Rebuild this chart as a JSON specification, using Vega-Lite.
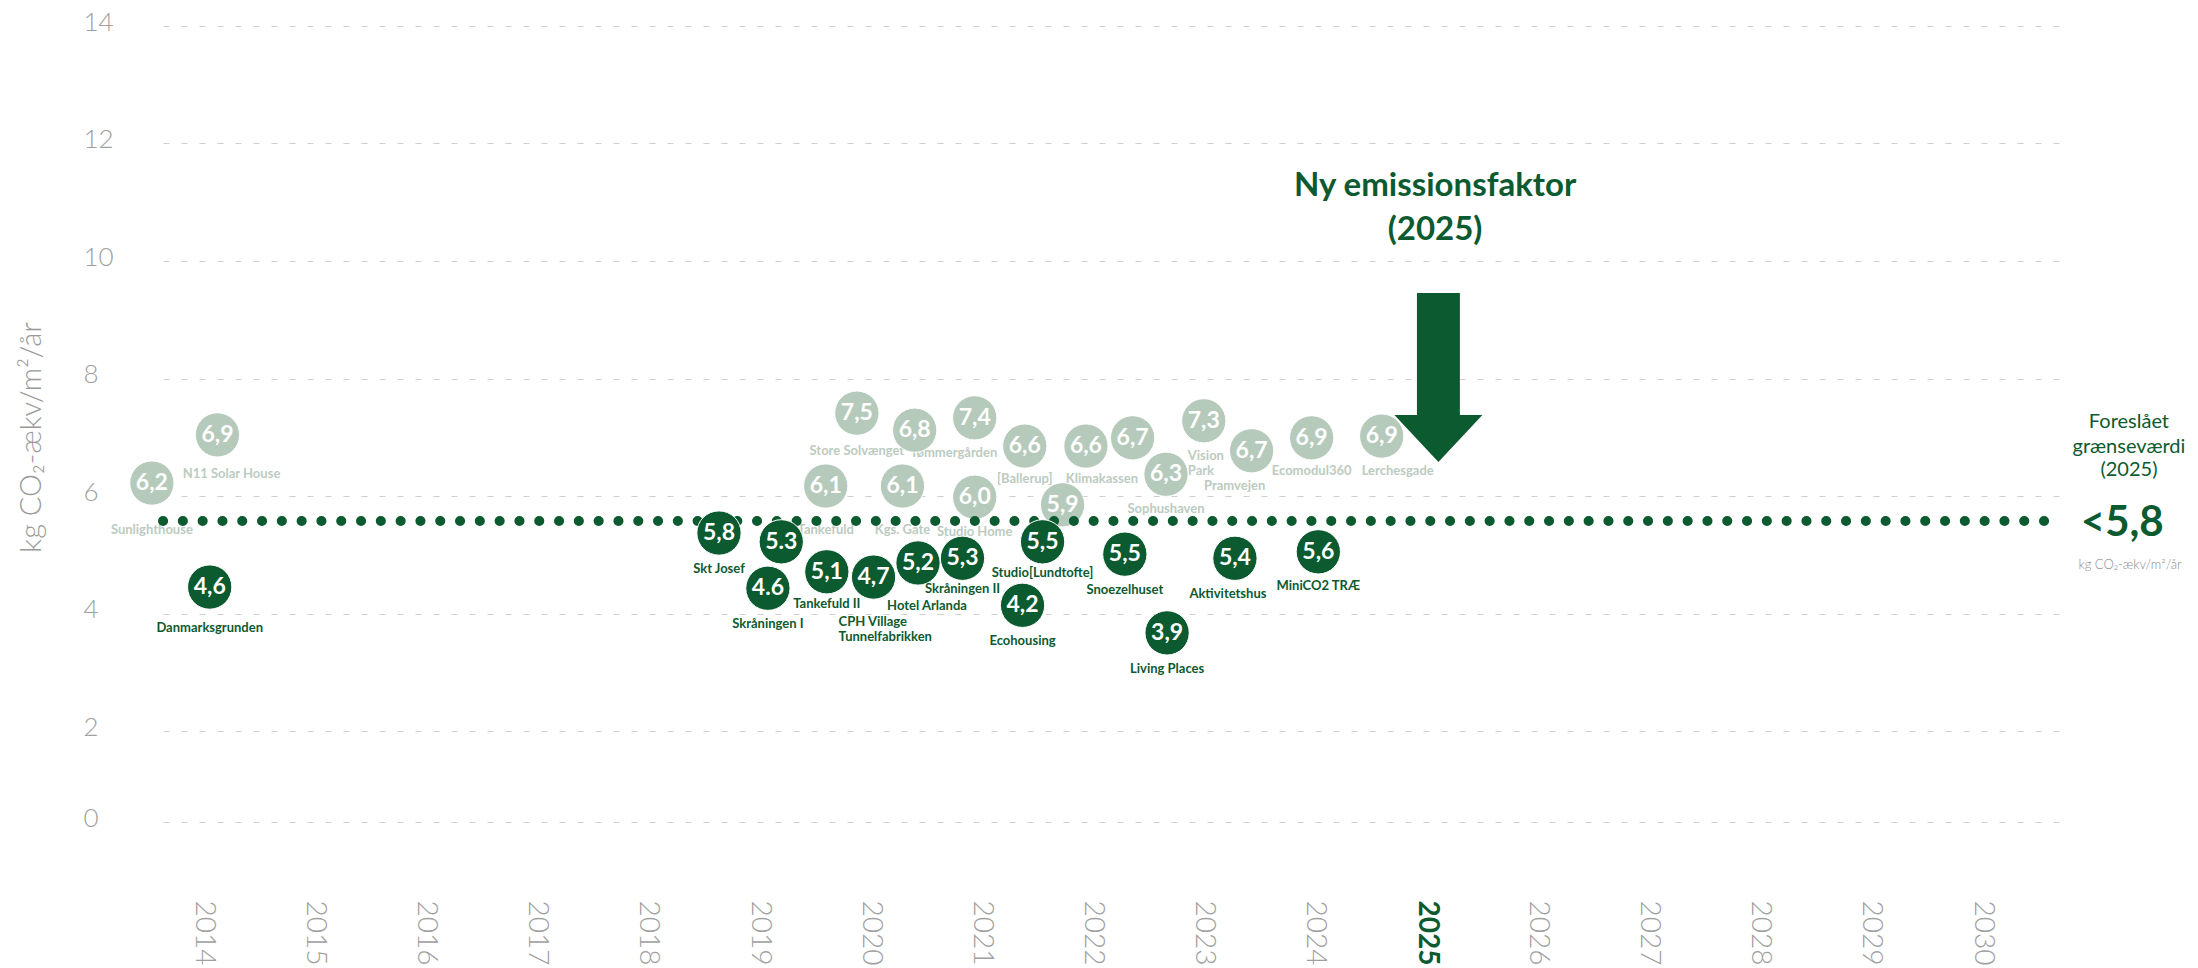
{
  "$schema": "https://vega.github.io/schema/vega-lite/v6.json",
  "width": 1897,
  "height": 870,
  "autosize": "none",
  "padding": {"left": 163, "top": 0, "right": 138, "bottom": 98},
  "background": "white",
  "config": {"view": {"stroke": null}, "font": "Lato"},
  "datasets": {
    "bubbles": [
      {"name": "Sunlighthouse", "x": 2013.54, "y": 6.22, "value": "6,2", "type": "light"},
      {"name": "N11 Solar House", "x": 2014.13, "y": 7.04, "value": "6,9", "type": "light"},
      {"name": "Danmarksgrunden", "x": 2014.06, "y": 4.45, "value": "4,6", "type": "dark"},
      {"name": "Skt Josef", "x": 2018.64, "y": 5.37, "value": "5,8", "type": "dark"},
      {"name": "", "x": 2019.2, "y": 5.22, "value": "5.3", "type": "dark"},
      {"name": "Skråningen I", "x": 2019.08, "y": 4.43, "value": "4.6", "type": "dark"},
      {"name": "Tankefuld", "x": 2019.6, "y": 6.17, "value": "6,1", "type": "light"},
      {"name": "Tankefuld II", "x": 2019.61, "y": 4.71, "value": "5,1", "type": "dark"},
      {"name": "Store Solvænget", "x": 2019.88, "y": 7.41, "value": "7,5", "type": "light"},
      {"name": "CPH Village\nTunnelfabrikken", "x": 2020.03, "y": 4.62, "value": "4,7", "type": "dark"},
      {"name": "Kgs. Gate", "x": 2020.29, "y": 6.17, "value": "6,1", "type": "light"},
      {"name": "", "x": 2020.4, "y": 7.12, "value": "6,8", "type": "light"},
      {"name": "Hotel Arlanda", "x": 2020.43, "y": 4.86, "value": "5,2", "type": "dark"},
      {"name": "Skråningen II", "x": 2020.83, "y": 4.94, "value": "5,3", "type": "dark"},
      {"name": "Tømmergården", "x": 2020.94, "y": 7.33, "value": "7,4", "type": "light"},
      {"name": "Studio Home", "x": 2020.94, "y": 5.98, "value": "6,0", "type": "light"},
      {"name": "Ecohousing", "x": 2021.37, "y": 4.14, "value": "4,2", "type": "dark"},
      {"name": "[Ballerup]", "x": 2021.39, "y": 6.85, "value": "6,6", "type": "light"},
      {"name": "Studio[Lundtofte]", "x": 2021.55, "y": 5.22, "value": "5,5", "type": "dark"},
      {"name": "", "x": 2021.73, "y": 5.85, "value": "5,9", "type": "light"},
      {"name": "Klimakassen", "x": 2021.94, "y": 6.85, "value": "6,6", "type": "light"},
      {"name": "Snoezelhuset", "x": 2022.29, "y": 5.01, "value": "5,5", "type": "dark"},
      {"name": "", "x": 2022.36, "y": 6.99, "value": "6,7", "type": "light"},
      {"name": "Sophushaven", "x": 2022.66, "y": 6.37, "value": "6,3", "type": "light"},
      {"name": "Living Places", "x": 2022.67, "y": 3.67, "value": "3,9", "type": "dark"},
      {"name": "Vision\nPark", "x": 2023.0, "y": 7.28, "value": "7,3", "type": "light"},
      {"name": "Aktivitetshus", "x": 2023.28, "y": 4.94, "value": "5,4", "type": "dark"},
      {"name": "Pramvejen", "x": 2023.43, "y": 6.77, "value": "6,7", "type": "light"},
      {"name": "Ecomodul360", "x": 2023.97, "y": 6.99, "value": "6,9", "type": "light"},
      {"name": "MiniCO2 TRÆ", "x": 2024.03, "y": 5.05, "value": "5,6", "type": "dark"},
      {"name": "Lerchesgade", "x": 2024.6, "y": 7.02, "value": "6,9", "type": "light"}
    ],
    "notes": [
      {"x": 2025.08, "y": 11.277, "text": "Ny emissionsfaktor", "kind": "head"},
      {"x": 2025.08, "y": 10.528, "text": "(2025)", "kind": "head"},
      {"x": 2031.32, "y": 7.26, "text": "Foreslået", "kind": "side"},
      {"x": 2031.32, "y": 6.834, "text": "grænseværdi", "kind": "side"},
      {"x": 2031.32, "y": 6.443, "text": "(2025)", "kind": "side"},
      {"x": 2031.26, "y": 5.54, "text": "<5,8", "kind": "big"},
      {"x": 2031.33, "y": 4.83, "text": "kg CO₂-ækv/m²/år", "kind": "unit"}
    ]
  },
  "encoding": {
    "x": {
      "field": "x", "type": "quantitative",
      "scale": {"domain": [2013.64, 2030.7], "nice": false, "zero": false},
      "axis": {
        "values": [2014, 2015, 2016, 2017, 2018, 2019, 2020, 2021, 2022, 2023, 2024, 2025, 2026, 2027, 2028, 2029, 2030],
        "format": "d", "title": null, "labelAngle": 90, "labelFontSize": 28,
        "labelColor": {"condition": {"test": "datum.value == 2025", "value": "#0c5a30"}, "value": "#a0a0a0"},
        "labelFontWeight": {"condition": {"test": "datum.value == 2025", "value": "bold"}, "value": 300},
        "ticks": false, "tickSize": 0, "domain": false, "grid": false, "labelPadding": 30,
        "labelOverlap": false, "labelFlush": false
      }
    },
    "y": {
      "field": "y", "type": "quantitative",
      "scale": {"domain": [0, 2, 14], "range": [822, 731, 26], "nice": false, "zero": false},
      "axis": {
        "values": [0, 2, 4, 6, 8, 10, 12, 14],
        "title": "kg CO₂-ækv/m²/år", "titleFontSize": 29, "titleFontWeight": 300, "titleColor": "#999999",
        "titleX": -132, "titleY": 437, "titleAngle": -90, "titleAlign": "center", "titleBaseline": "middle",
        "labelAlign": "left", "labelPadding": 80, "labelFontSize": 26, "labelFontWeight": 300,
        "labelColor": "#a0a0a0", "labelOffset": -4,
        "ticks": false, "tickSize": 0, "domain": false,
        "grid": true, "gridColor": "#cfcfcf", "gridDash": [6, 12], "gridWidth": 1.2
      }
    }
  },
  "layer": [
    {
      "data": {"name": "bubbles"},
      "transform": [{"filter": "datum.type == 'light'"}],
      "mark": {"type": "text", "baseline": "top", "fontSize": 13, "fontWeight": "bold", "color": "#bccbc0", "lineBreak": "\n", "lineHeight": 15,
        "align": {"expr": "datum.value == '7,3' ? 'left' : 'center'"},
        "dx": {"expr": "datum.name == 'Tømmergården' ? -21 : (datum.name == 'Klimakassen' || datum.name == 'Lerchesgade') ? 16 : datum.name == 'Pramvejen' ? -17 : datum.name == 'N11 Solar House' ? 14 : datum.value == '7,3' ? -16 : 0"},
        "dy": {"expr": "datum.name == 'Sunlighthouse' ? 41 : (datum.name == 'Tankefuld' || datum.name == 'Kgs. Gate') ? 38 : (datum.name == '[Ballerup]' || datum.name == 'Klimakassen' || datum.name == 'Ecomodul360') ? 27 : datum.name == 'N11 Solar House' ? 33 : datum.name == 'Store Solvænget' ? 32 : 29"}
      },
      "encoding": {"text": {"field": "name"}}
    },
    {
      "data": {"name": "bubbles"},
      "transform": [{"filter": "datum.type == 'light'"}],
      "mark": {"type": "point", "shape": "circle", "filled": true, "size": 1960, "fill": "#b6cabc", "stroke": "white", "strokeWidth": 1, "opacity": 1}
    },
    {
      "data": {"name": "bubbles"},
      "transform": [{"filter": "datum.type == 'light'"}],
      "mark": {"type": "text", "align": "center", "baseline": "middle", "fontSize": 23, "fontWeight": "bold", "color": "white"},
      "encoding": {"text": {"field": "value"}}
    },
    {
      "data": {"values": [{"x": 2013.64, "x2": 2030.7, "y": 5.574}]},
      "mark": {"type": "rule", "color": "#0c5a30", "strokeWidth": 10, "strokeDash": [0.1, 19.7], "strokeCap": "round"},
      "encoding": {"x2": {"field": "x2"}}
    },
    {
      "data": {"name": "bubbles"},
      "transform": [{"filter": "datum.type == 'dark'"}],
      "mark": {"type": "point", "shape": "circle", "filled": true, "size": 1960, "fill": "#0c5a30", "stroke": "white", "strokeWidth": 1, "opacity": 1}
    },
    {
      "data": {"name": "bubbles"},
      "transform": [{"filter": "datum.type == 'dark'"}],
      "mark": {"type": "text", "align": "center", "baseline": "middle", "fontSize": 23, "fontWeight": "bold", "color": "white"},
      "encoding": {"text": {"field": "value"}}
    },
    {
      "data": {"name": "bubbles"},
      "transform": [{"filter": "datum.type == 'dark'"}],
      "mark": {"type": "text", "baseline": "top", "fontSize": 13, "fontWeight": "bold", "color": "#0c5a30", "lineBreak": "\n", "lineHeight": 15,
        "align": {"expr": "datum.value == '4,7' ? 'left' : 'center'"},
        "dx": {"expr": "datum.value == '4,7' ? -35 : datum.name == 'Hotel Arlanda' ? 9 : datum.name == 'Aktivitetshus' ? -7 : 0"},
        "dy": {"expr": "datum.value == '4,7' ? 39 : datum.name == 'Hotel Arlanda' ? 37 : datum.name == 'Skråningen II' ? 25 : datum.name == 'Danmarksgrunden' ? 35 : datum.name == 'Studio[Lundtofte]' ? 25 : datum.name == 'Tankefuld II' ? 26 : datum.name == 'MiniCO2 TRÆ' ? 28 : 30"}
      },
      "encoding": {"text": {"field": "name"}}
    },
    {
      "data": {"values": [{"x": 2025.11, "y": 8.017}]},
      "mark": {"type": "point", "filled": true, "size": 30976, "fill": "#0c5a30", "opacity": 1,
        "shape": "M-0.244,-0.96L0.244,-0.96L0.244,0.426L0.5,0.426L0,0.96L-0.5,0.426L-0.244,0.426Z"}
    },
    {
      "data": {"name": "notes"},
      "transform": [{"filter": "datum.kind == 'head'"}],
      "mark": {"type": "text", "align": "center", "baseline": "middle", "fontSize": 33, "fontWeight": "bold", "color": "#0c5a30"},
      "encoding": {"text": {"field": "text"}}
    },
    {
      "data": {"name": "notes"},
      "transform": [{"filter": "datum.kind == 'side'"}],
      "mark": {"type": "text", "align": "center", "baseline": "middle", "fontSize": 20, "fontWeight": 400, "color": "#0c5a30"},
      "encoding": {"text": {"field": "text"}}
    },
    {
      "data": {"name": "notes"},
      "transform": [{"filter": "datum.kind == 'big'"}],
      "mark": {"type": "text", "align": "center", "baseline": "middle", "fontSize": 42, "fontWeight": "bold", "color": "#0c5a30"},
      "encoding": {"text": {"field": "text"}}
    },
    {
      "data": {"name": "notes"},
      "transform": [{"filter": "datum.kind == 'unit'"}],
      "mark": {"type": "text", "align": "center", "baseline": "middle", "fontSize": 13, "fontWeight": 300, "color": "#8a8a8a"},
      "encoding": {"text": {"field": "text"}}
    }
  ]
}
